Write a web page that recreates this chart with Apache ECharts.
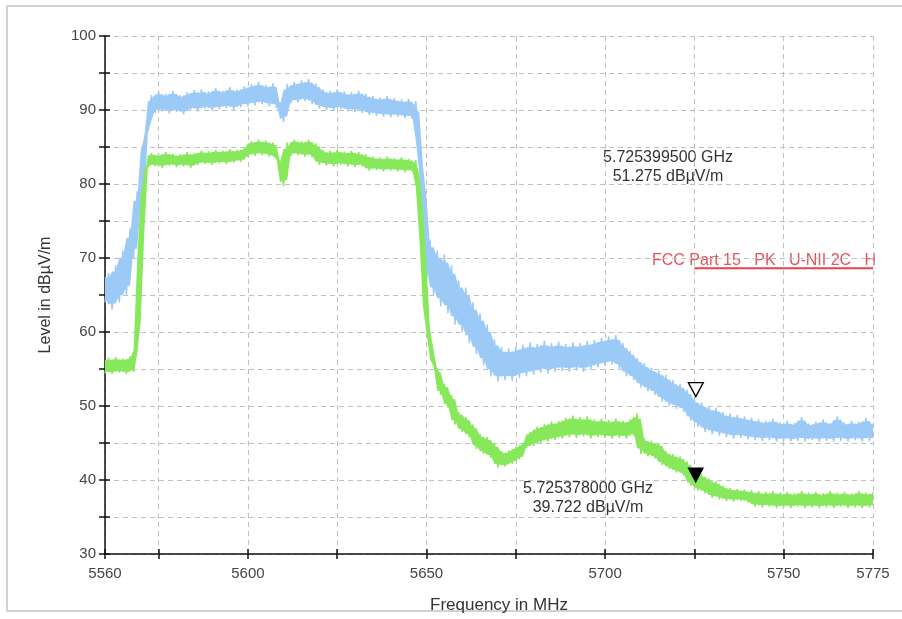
<!DOCTYPE html>
<html>
<head>
<meta charset="utf-8">
<script src="https://cdn.jsdelivr.net/npm/echarts@6/dist/echarts.min.js"></script>
<style>
  html, body { margin: 0; padding: 0; background: #fff; }
  #main { width: 902px; height: 619px; }
</style>
</head>
<body>
<div id="main"></div>
<script>
// frequency axis, MHz
var xMin = 5560
var xMax = 5775
var xTicks = [5560, 5575, 5600, 5625, 5650, 5675, 5700, 5725, 5750, 5775]
var xLabels = [5560, 5600, 5650, 5700, 5750, 5775]

// one reading per MHz, starting at 5560 (low / high)
var blueLevel = [
    64, 68, 63, 69, 64, 71, 65, 74, 70, 79,
    76, 86, 88, 92, 89.6, 92.5, 89.8, 92.2, 89.5, 92.6,
    89.7, 92, 89.4, 92.4, 90, 92.7, 89.8, 92.8, 90.2, 92.5,
    89.9, 93, 90.1, 92.6, 90.3, 93.1, 90, 92.8, 90.4, 93.2,
    90.5, 93.5, 90.6, 93.8, 90.8, 93.4, 90.5, 93.6, 90.3, 91,
    88.4, 93.5, 90.9, 93.8, 91, 94, 91.2, 94.2, 90.8, 93.6,
    90.2, 92.8, 90, 92.6, 89.9, 92.8, 90.1, 92.5, 89.8, 92.4,
    89.7, 92.6, 89.6, 92.2, 89.3, 91.9, 89.2, 91.7, 89.1, 91.9,
    89, 91.6, 89.1, 91.4, 88.9, 91.5, 88.8, 91.2, 85, 80,
    67, 72.5, 65, 71, 63.5, 70.5, 62.5, 69, 61, 67,
    60, 66, 58.5, 64, 57, 62.5, 55.5, 61, 54, 59,
    53.3, 58, 53.5, 57.8, 53.4, 58, 53.8, 58.3, 54, 58.6,
    54.2, 58.4, 54.5, 58.8, 54.4, 58.5, 54.6, 58.7, 54.7, 58.4,
    54.6, 58.6, 54.8, 58.5, 54.6, 58.8, 54.9, 58.9, 55.2, 59.2,
    55.4, 59.4, 55.6, 59.6, 55, 58.5, 54, 57.5, 53.5, 56.5,
    52.5, 55.8, 52, 55.2, 51.5, 54.8, 50.6, 54.2, 50, 53.5,
    49.6, 53, 49.2, 52.2, 48, 51, 47.2, 50.5, 46.5, 50,
    46.2, 49.8, 46, 49.2, 45.8, 49, 45.6, 48.8, 45.7, 48.6,
    45.5, 48.4, 45.4, 48.2, 45.3, 48, 45.4, 48.3, 45.2, 47.8,
    45.3, 48, 45.2, 47.7, 45.3, 48.5, 45.2, 47.6, 45.4, 47.9,
    45.2, 48.2, 45.3, 47.7, 45.2, 48.6, 45.3, 47.8, 45.2, 48,
    45.4, 47.9, 45.2, 48.4, 45.3, 47.6
]
var greenLevel = [
    54.4, 56.5, 54.3, 56.6, 54.5, 56.4, 54.3, 56.7, 54.6, 58,
    72, 82, 82.3, 84.2, 82.4, 84, 82.2, 84.3, 82.5, 84.1,
    82.3, 84, 82.4, 84.3, 82.2, 84.2, 82.6, 84.5, 82.7, 84.4,
    82.6, 84.6, 82.8, 84.5, 82.7, 84.7, 82.9, 84.6, 83, 84.9,
    83.7, 85.8, 83.8, 86, 83.9, 85.9, 83.7, 85.6, 83.5, 83,
    79.7, 85.6, 83.8, 86, 83.9, 85.8, 83.7, 86, 83.6, 85.5,
    82.6, 84.6, 82.5, 84.5, 82.4, 84.6, 82.6, 84.4, 82.4, 84.5,
    82.3, 84.3, 82.4, 84, 81.8, 83.7, 81.9, 83.6, 81.7, 83.7,
    81.8, 83.5, 81.7, 83.6, 81.6, 83.4, 81.7, 83.2, 79, 71,
    61, 58, 55.5, 55, 51.5, 53, 49.8, 51.5, 47.5, 49.2,
    46.5, 48.5, 45.8, 47.5, 44.2, 46.2, 43.5, 45.8, 43, 45,
    41.7, 43.9, 41.8, 44, 42.2, 44.5, 42.8, 45, 44.3, 46.5,
    44.6, 47.2, 45, 47.5, 45.2, 47.9, 45.4, 48, 45.6, 48.4,
    45.8, 48.7, 45.7, 48.5, 45.9, 48.6, 45.6, 48.2, 45.8, 48.3,
    45.7, 48.1, 45.6, 48.3, 45.7, 48, 45.6, 48.2, 46, 49,
    43.5, 45.6, 43.2, 45.3, 42.9, 45, 42, 43.9, 41.5, 43.5,
    41, 43.2, 40.6, 42.5, 39.2, 41.2, 38.6, 40.8, 38.2, 40.2,
    37.6, 39.8, 37.4, 39.2, 37.2, 38.9, 37.1, 38.8, 37.2, 38.7,
    37, 38.6, 36.4, 38.5, 36.3, 38.4, 36.4, 38.5, 36.2, 38.3,
    36.3, 38.4, 36.2, 38.2, 36.4, 38.5, 36.2, 38.3, 36.3, 38.4,
    36.2, 38.2, 36.3, 38.5, 36.2, 38.3, 36.4, 38.4, 36.2, 38.2,
    36.3, 38.5, 36.2, 38.3, 36.3, 38.4
]

// limit line FCC Part 15 PK U-NII 2C H
var limitFreq = [5725, 5775]
var limitLevel = 68.6

// markers: [MHz, dBuV/m]
var markerBlue = [5725.3995, 51.275]
var markerGreen = [5725.378, 39.722]

var fontFam = '"Liberation Sans", Arial, sans-serif'
var blueCol = '#9ccaf6'
var greenCol = '#88e85c'

function toPairs (vals) {
    var out = []
    for (var i = 0; i < vals.length; i++) {
        out.push([xMin + i, vals[i]])
    }
    return out
}

/* filled body of the noisy trace: inner part of the low/high readings around each point */
function bandRender (vals, col) {
    return function (params, api) {
        var top = [], bot = []
        for (var i = 0; i < vals.length; i++) {
            var a = vals[Math.max(i - 1, 0)], b = vals[i], c = vals[Math.min(i + 1, vals.length - 1)]
            var lo = Math.min(a, b, c), hi = Math.max(a, b, c)
            var cut = (hi - lo) * 0.14
            top.push(api.coord([xMin + i, hi - cut]))
            bot.push(api.coord([xMin + i, lo + cut]))
        }
        return {
            type: 'polygon',
            shape: { points: top.concat(bot.reverse()) },
            style: { fill: col }
        }
    }
}

var myChart = echarts.init(document.getElementById('main'), null, { renderer: 'canvas' })

var gridLine = { show: true, lineStyle: { color: '#c0c0c0', type: [5, 4], width: 1 } }
var tri = 'path://M0,0L10,0L5,9Z'

var series = [{
    name: 'PK-band',
    type: 'custom',
    renderItem: bandRender(blueLevel, blueCol),
    data: [[xMin, blueLevel[0]]],
    silent: true,
    z: 2
}, {
    name: 'PK',
    type: 'line',
    data: toPairs(blueLevel),
    symbol: 'none',
    lineStyle: { color: blueCol, width: 1.4 },
    z: 2,
    markPoint: {
        symbol: tri,
        symbolSize: [15, 14],
        symbolOffset: [0, -7],
        itemStyle: { color: '#fff', borderColor: '#000', borderWidth: 1.3 },
        label: { show: false },
        data: [{ coord: markerBlue }]
    }
}, {
    name: 'AV-band',
    type: 'custom',
    renderItem: bandRender(greenLevel, greenCol),
    data: [[xMin, greenLevel[0]]],
    silent: true,
    z: 3
}, {
    name: 'AV',
    type: 'line',
    data: toPairs(greenLevel),
    symbol: 'none',
    lineStyle: { color: greenCol, width: 1.4 },
    z: 3,
    markPoint: {
        symbol: tri,
        symbolSize: [15, 14],
        symbolOffset: [0, -7],
        itemStyle: { color: '#000', borderColor: '#000', borderWidth: 1 },
        label: { show: false },
        data: [{ coord: markerGreen }]
    }
}, {
    name: 'Limit',
    type: 'line',
    data: [[limitFreq[0], limitLevel], [limitFreq[1], limitLevel]],
    symbol: 'none',
    lineStyle: { color: '#e8424a', width: 2 },
    z: 4
}]

var option = {
    backgroundColor: '#fff',
    animation: false,
    grid: { left: 105, right: 29, top: 36, bottom: 63 },
    xAxis: [{
        type: 'value',
        min: xMin,
        max: xMax,
        name: 'Frequency in MHz',
        nameLocation: 'middle',
        nameGap: 43,
        nameTextStyle: { fontFamily: fontFam, fontSize: 17, color: '#333', padding: [0, 0, 0, 20] },
        axisLine: { lineStyle: { color: '#111', width: 1.5 } },
        axisTick: { show: true, length: 5, customValues: xTicks, lineStyle: { color: '#111', width: 1.5 } },
        axisLabel: {
            customValues: xLabels,
            fontFamily: fontFam,
            fontSize: 15,
            color: '#444',
            margin: 12,
            formatter: function (v) { return String(v) }
        },
        splitLine: gridLine
    }, {
        type: 'value',
        min: xMin,
        max: xMax,
        position: 'bottom',
        axisLine: { show: false },
        axisTick: { show: true, inside: true, length: 5, customValues: xTicks, lineStyle: { color: '#111', width: 1.5 } },
        axisLabel: { show: false },
        splitLine: { show: false }
    }],
    yAxis: [{
        type: 'value',
        min: 30,
        max: 100,
        interval: 5,
        name: 'Level in dBµV/m',
        nameLocation: 'middle',
        nameGap: 51,
        nameTextStyle: { fontFamily: fontFam, fontSize: 16, color: '#333' },
        axisLine: { show: true, lineStyle: { color: '#111', width: 1.5 } },
        axisTick: { show: true, length: 6, lineStyle: { color: '#111', width: 1.5 } },
        axisLabel: {
            fontFamily: fontFam,
            fontSize: 15,
            color: '#444',
            margin: 9,
            formatter: function (v) { return v % 10 === 0 ? String(v) : '' }
        },
        splitLine: gridLine
    }, {
        type: 'value',
        min: 30,
        max: 100,
        interval: 5,
        position: 'left',
        axisLine: { show: false },
        axisTick: { show: true, inside: true, length: 5, lineStyle: { color: '#111', width: 1.5 } },
        axisLabel: { show: false },
        splitLine: { show: false }
    }],
    series: series,
    graphic: [
        {
            type: 'rect',
            shape: { x: 7, y: 6, width: 905, height: 605 },
            style: { fill: 'none', stroke: '#c4c4c4', lineWidth: 1.5 },
            silent: true
        },
        {
            type: 'text', x: 668, y: 158,
            style: { text: '5.725399500 GHz', fill: '#333', font: '16px ' + fontFam, textAlign: 'center', textVerticalAlign: 'middle' }
        },
        {
            type: 'text', x: 668, y: 177,
            style: { text: '51.275 dBµV/m', fill: '#333', font: '16px ' + fontFam, textAlign: 'center', textVerticalAlign: 'middle' }
        },
        {
            type: 'text', x: 588, y: 489,
            style: { text: '5.725378000 GHz', fill: '#333', font: '16px ' + fontFam, textAlign: 'center', textVerticalAlign: 'middle' }
        },
        {
            type: 'text', x: 588, y: 508,
            style: { text: '39.722 dBµV/m', fill: '#333', font: '16px ' + fontFam, textAlign: 'center', textVerticalAlign: 'middle' }
        },
        {
            type: 'text', x: 652, y: 261,
            style: { text: 'FCC Part 15   PK   U-NII 2C   H', fill: '#e0565c', font: '16px ' + fontFam, textAlign: 'left', textVerticalAlign: 'middle' }
        }
    ]
}

myChart.setOption(option)
window.onresize = myChart.resize
</script>
</body>
</html>
